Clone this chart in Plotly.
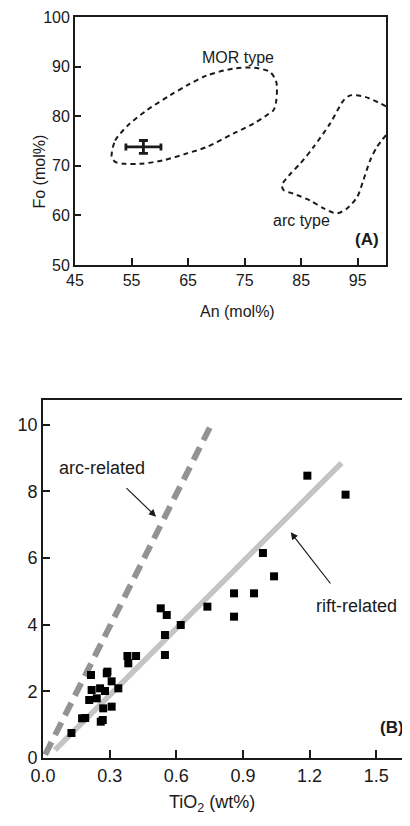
import plotly.graph_objects as go

# ---------------- Panel A data ----------------
mor_an = [51.5, 52.1, 54.4, 57.7, 61.8, 64.8, 68.3, 73.0, 76.6, 79.5, 80.6, 80.6, 80.1, 78.9,
          76.6, 73.0, 68.3, 64.8, 60.6, 56.5, 53.8, 52.1, 51.5, 51.5]
mor_fo = [72.5, 75.1, 78.2, 81.2, 84.2, 86.2, 88.2, 89.6, 89.8, 88.9, 86.9, 83.2, 81.2, 80.2,
          78.5, 76.5, 73.8, 72.5, 71.1, 70.4, 70.4, 70.8, 71.8, 72.5]
arc_an = [100.0, 96.3, 93.7, 92.5, 90.1, 87.2, 84.8, 83.1, 81.6, 81.9, 83.6, 86.6, 89.0, 91.3,
          93.1, 94.9, 96.0, 97.2, 98.4, 100.0]
arc_fo = [82.0, 83.9, 84.2, 83.2, 78.5, 73.8, 70.4, 68.4, 66.1, 65.1, 64.4, 63.0, 61.4, 60.4,
          61.4, 63.7, 67.1, 71.1, 73.8, 76.2]
sample_an = [57.1]
sample_fo = [73.8]
sample_an_err = [3.1]
sample_fo_err = [1.3]
a_xticks = [45, 55, 65, 75, 85, 95]
a_yticks = [50, 60, 70, 80, 90, 100]

# ---------------- Panel B data ----------------
tio2 = [0.128, 0.176, 0.19, 0.208, 0.216, 0.219, 0.242, 0.257, 0.279, 0.26, 0.269, 0.271,
        0.287, 0.29, 0.309, 0.309, 0.339, 0.384, 0.38, 0.419, 0.53, 0.557, 0.549, 0.549,
        0.62, 0.74, 0.86, 0.86, 0.95, 0.99, 1.04, 1.19, 1.362]
ratio = [0.75, 1.19, 1.2, 1.74, 2.49, 2.04, 1.79, 2.09, 2.01, 1.09, 1.14, 1.49,
         2.54, 2.59, 1.54, 2.3, 2.09, 2.84, 3.06, 3.06, 4.49, 4.29, 3.69, 3.09,
         3.99, 4.54, 4.94, 4.24, 4.94, 6.15, 5.45, 8.47, 7.9]
arc_line_x = [0.01, 0.765]
arc_line_y = [0.1, 10.1]
rift_line_x = [0.054, 1.344]
rift_line_y = [0.24, 8.85]
b_xticks = [0.0, 0.3, 0.6, 0.9, 1.2, 1.5]
b_xticklabels = ["0.0", "0.3", "0.6", "0.9", "1.2", "1.5"]
b_yticks = [0, 2, 4, 6, 8, 10]

FONT = "Liberation Sans, Arial, sans-serif"
INK = "#1a1a1a"

# page has default 8px body margin -> figure occupies (8..410, 8..826)
OFF = 8
W, H = 410 - OFF, 826 - OFF


def px(x):
    return (x - OFF) / W


def py(y):
    return 1 - (y - OFF) / H


fig = go.Figure()

# Panel A
fig.add_trace(go.Scatter(x=mor_an, y=mor_fo, mode="lines", line=dict(color=INK, width=2, dash="5px,4px", shape="spline", smoothing=0.8),
                         xaxis="x", yaxis="y", showlegend=False, hoverinfo="skip"))
fig.add_trace(go.Scatter(x=arc_an, y=arc_fo, mode="lines", line=dict(color=INK, width=2, dash="5px,4px", shape="spline", smoothing=0.8),
                         xaxis="x", yaxis="y", showlegend=False, hoverinfo="skip"))
fig.add_trace(go.Scatter(x=sample_an, y=sample_fo, mode="markers", marker=dict(size=1, color=INK),
                         error_x=dict(type="data", array=sample_an_err, thickness=2.8, width=3.5, color=INK),
                         error_y=dict(type="data", array=sample_fo_err, thickness=2.8, width=4.5, color=INK),
                         xaxis="x", yaxis="y", showlegend=False))

# Panel B
fig.add_trace(go.Scatter(x=rift_line_x, y=rift_line_y, mode="lines", line=dict(color="#c4c4c4", width=5.5),
                         xaxis="x2", yaxis="y2", showlegend=False, hoverinfo="skip"))
fig.add_trace(go.Scatter(x=arc_line_x, y=arc_line_y, mode="lines", line=dict(color="#939393", width=6, dash="14px,8px"),
                         xaxis="x2", yaxis="y2", showlegend=False, hoverinfo="skip"))
fig.add_trace(go.Scatter(x=tio2, y=ratio, mode="markers", marker=dict(symbol="square", size=8, color="black"),
                         xaxis="x2", yaxis="y2", showlegend=False))

axis_common = dict(showgrid=False, zeroline=False, showline=True, linecolor=INK, linewidth=1.8,
                   ticks="inside", tickcolor=INK, tickwidth=1.5, automargin=False)

fig.update_layout(
    width=W, height=H,
    margin=dict(l=0, r=0, t=0, b=0, autoexpand=False),
    paper_bgcolor="white", plot_bgcolor="white",
    font=dict(family=FONT, color=INK),
    xaxis=dict(domain=[px(75), px(386)], range=[45, 100], anchor="y", mirror=True,
               tickvals=a_xticks, ticklen=7, tickfont=dict(size=16), **axis_common),
    yaxis=dict(domain=[py(265), py(17)], range=[50, 100], anchor="x", mirror=True,
               tickvals=a_yticks, ticklen=6, tickfont=dict(size=16), **axis_common),
    xaxis2=dict(domain=[px(43), 1.0], range=[0, 1.652], anchor="y2", mirror=True,
                tickvals=b_xticks, ticktext=b_xticklabels, ticklen=8, tickfont=dict(size=18), **axis_common),
    yaxis2=dict(domain=[py(758), py(400)], range=[0, 10.74], anchor="x2", mirror=False,
                tickvals=b_yticks, ticklen=7, tickfont=dict(size=18), **axis_common),
)

ann = [
    # Panel A texts
    dict(x=73.8, y=91.9, xref="x", yref="y", text="MOR type", showarrow=False, font=dict(size=16)),
    dict(x=85.0, y=59.0, xref="x", yref="y", text="arc type", showarrow=False, font=dict(size=16)),
    dict(x=96.7, y=55.2, xref="x", yref="y", text="<b>(A)</b>", showarrow=False, font=dict(size=17)),
    dict(x=px(238), y=py(312), xref="paper", yref="paper", text="An (mol%)", showarrow=False, font=dict(size=16)),
    dict(x=px(28), y=py(133), xref="paper", yref="paper", text="Fo (mol%)", textangle=-90, showarrow=False, font=dict(size=16)),
    # Panel B texts
    dict(x=0.2655, y=8.71, xref="x2", yref="y2", text="arc-related", showarrow=False, font=dict(size=18)),
    dict(x=1.413, y=4.56, xref="x2", yref="y2", text="rift-related", showarrow=False, font=dict(size=18)),
    dict(x=1.572, y=0.93, xref="x2", yref="y2", text="<b>(B)</b>", showarrow=False, font=dict(size=17)),
    dict(x=px(212), y=py(817), xref="paper", yref="paper", text="TiO<sub>2</sub> (wt%)", showarrow=False, font=dict(size=18)),
    # arrows
    dict(x=0.509, y=7.24, ax=0.369, ay=8.14, xref="x2", yref="y2", axref="x2", ayref="y2", text="",
         showarrow=True, arrowhead=2, arrowsize=1.2, arrowwidth=1.2, arrowcolor=INK),
    dict(x=1.115, y=6.77, ax=1.299, ay=5.19, xref="x2", yref="y2", axref="x2", ayref="y2", text="",
         showarrow=True, arrowhead=2, arrowsize=1.2, arrowwidth=1.2, arrowcolor=INK),
]
fig.update_layout(annotations=ann)

fig.write_html("out.html")
